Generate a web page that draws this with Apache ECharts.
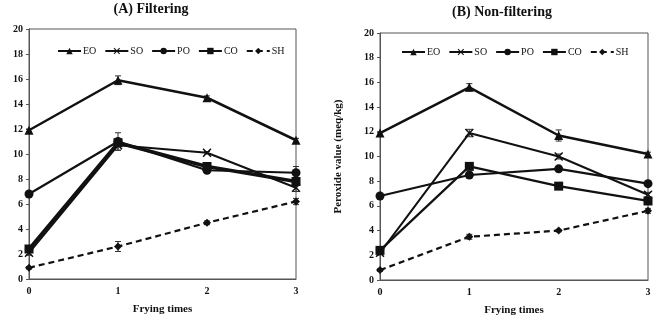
<!DOCTYPE html>
<html>
<head>
<meta charset="utf-8">
<script src="https://cdn.jsdelivr.net/npm/echarts@6/dist/echarts.min.js"></script>
<style>
  html, body { margin: 0; padding: 0; background: #fff; }
  #chart { width: 654px; height: 321px; }
</style>
</head>
<body>
<div id="chart"></div>
<script>
// Frying times on the x axis
const fryingTimes = [0, 1, 2, 3];
const oilNames = ['EO', 'SO', 'PO', 'CO', 'SH'];

// (A) Filtering - peroxide values (meq/kg)
const filterEO = [11.9, 15.9, 14.5, 11.1];
const filterSO = [2.1, 10.7, 10.1, 7.3];
const filterPO = [6.8, 11.0, 8.7, 8.5];
const filterCO = [2.4, 10.9, 9.0, 7.8];
const filterSH = [0.9, 2.6, 4.5, 6.2];

// (A) error bars
const filterEOErr = [0.1, 0.35, 0.15, 0.15];
const filterSOErr = [0.2, 0.4, 0.1, 0.3];
const filterPOErr = [0.1, 0.7, 0.15, 0.5];
const filterCOErr = [0.1, 0.2, 0.2, 0.3];
const filterSHErr = [0.1, 0.4, 0.15, 0.25];

// (B) Non-filtering - peroxide values (meq/kg)
const nonFilterEO = [11.9, 15.6, 11.7, 10.2];
const nonFilterSO = [2.2, 11.9, 10.0, 6.9];
const nonFilterPO = [6.8, 8.5, 9.0, 7.8];
const nonFilterCO = [2.4, 9.2, 7.6, 6.4];
const nonFilterSH = [0.8, 3.5, 4.0, 5.6];

// (B) error bars
const nonFilterEOErr = [0.1, 0.3, 0.45, 0.15];
const nonFilterSOErr = [0.1, 0.3, 0.2, 0.2];
const nonFilterPOErr = [0.1, 0.2, 0.2, 0.2];
const nonFilterCOErr = [0.1, 0.2, 0.2, 0.2];
const nonFilterSHErr = [0.1, 0.2, 0.1, 0.2];

const FONT = '"Liberation Serif", "Times New Roman", serif';
const INK = '#111';

const xCross = 'path://M0,1.2L1.2,0L5,3.8L8.8,0L10,1.2L6.2,5L10,8.8L8.8,10L5,6.2L1.2,10L0,8.8L3.8,5Z';

// style per oil: symbol, size, line width, dash
const oilStyles = {
    EO: { symbol: 'triangle', size: 9, width: 2.5, type: 'solid' },
    SO: { symbol: xCross, size: 9, width: 2, type: 'solid' },
    PO: { symbol: 'circle', size: 9, width: 2.2, type: 'solid' },
    CO: { symbol: 'rect', size: 9, width: 2.5, type: 'solid' },
    SH: { symbol: 'diamond', size: 8, width: 2.2, type: [6, 4] }
};

function toPoints(values) {
    return fryingTimes.map((t, i) => [t, values[i]]);
}

function lineSeries(name, values, idx, widthOverride) {
    const st = oilStyles[name];
    return {
        name: name,
        type: 'line',
        xAxisIndex: idx,
        yAxisIndex: idx,
        data: toPoints(values),
        symbol: st.symbol,
        symbolSize: st.size,
        showAllSymbol: true,
        lineStyle: { color: INK, width: widthOverride || st.width, type: st.type },
        itemStyle: { color: INK },
        z: 3
    };
}

function errorSeries(values, errs, idx) {
    return {
        type: 'custom',
        xAxisIndex: idx,
        yAxisIndex: idx,
        silent: true,
        data: fryingTimes.map((t, i) => [t, values[i], errs[i]]),
        renderItem: function(params, api) {
            const x = api.value(0), y = api.value(1), e = api.value(2);
            const hi = api.coord([x, y + e]);
            const lo = api.coord([x, y - e]);
            const w = 3;
            const s = { stroke: '#333', lineWidth: 1 };
            return {
                type: 'group',
                children: [
                    { type: 'line', shape: { x1: hi[0], y1: hi[1], x2: lo[0], y2: lo[1] }, style: s },
                    { type: 'line', shape: { x1: hi[0] - w, y1: hi[1], x2: hi[0] + w, y2: hi[1] }, style: s },
                    { type: 'line', shape: { x1: lo[0] - w, y1: lo[1], x2: lo[0] + w, y2: lo[1] }, style: s }
                ]
            };
        },
        z: 2
    };
}

function xAxisFor(idx) {
    return {
        gridIndex: idx,
        type: 'value',
        min: 0,
        max: 3,
        interval: 1,
        name: 'Frying times',
        nameLocation: 'middle',
        nameGap: 25,
        nameTextStyle: { fontFamily: FONT, fontWeight: 'bold', fontSize: 11, color: INK },
        axisLine: { show: true, lineStyle: { color: '#555', width: 1 } },
        axisTick: { show: false },
        axisLabel: { fontFamily: FONT, fontWeight: 'bold', fontSize: 10, color: INK, margin: 7 },
        splitLine: { show: false }
    };
}

function yAxisFor(idx, withName) {
    const ax = {
        gridIndex: idx,
        type: 'value',
        min: 0,
        max: 20,
        interval: 2,
        axisLine: { show: true, lineStyle: { color: '#555', width: 1 } },
        axisTick: { show: true, length: 3, lineStyle: { color: '#555' } },
        axisLabel: { fontFamily: FONT, fontWeight: 'bold', fontSize: 10, color: INK, margin: 6 },
        splitLine: { show: false }
    };
    if (withName) {
        ax.name = 'Peroxide value (meq/kg)';
        ax.nameLocation = 'middle';
        ax.nameGap = 36;
        ax.nameTextStyle = { fontFamily: FONT, fontWeight: 'bold', fontSize: 11, color: INK };
    }
    return ax;
}

function legendFor(left, top) {
    return {
        left: left,
        top: top,
        width: 300,
        data: oilNames,
        itemWidth: 23,
        itemHeight: 8,
        itemGap: 8,
        textStyle: { fontFamily: FONT, fontSize: 10, color: INK, padding: [0, 0, 0, -3] },
        selectedMode: false
    };
}

const chart = echarts.init(document.getElementById('chart'));

const series = [
    lineSeries('EO', filterEO, 0),
    lineSeries('SO', filterSO, 0),
    lineSeries('PO', filterPO, 0),
    lineSeries('CO', filterCO, 0, 3.5),
    lineSeries('SH', filterSH, 0),
    errorSeries(filterEO, filterEOErr, 0),
    errorSeries(filterSO, filterSOErr, 0),
    errorSeries(filterPO, filterPOErr, 0),
    errorSeries(filterCO, filterCOErr, 0),
    errorSeries(filterSH, filterSHErr, 0),
    lineSeries('EO', nonFilterEO, 1),
    lineSeries('SO', nonFilterSO, 1),
    lineSeries('PO', nonFilterPO, 1),
    lineSeries('CO', nonFilterCO, 1, 2.2),
    lineSeries('SH', nonFilterSH, 1),
    errorSeries(nonFilterEO, nonFilterEOErr, 1),
    errorSeries(nonFilterSO, nonFilterSOErr, 1),
    errorSeries(nonFilterPO, nonFilterPOErr, 1),
    errorSeries(nonFilterCO, nonFilterCOErr, 1),
    errorSeries(nonFilterSH, nonFilterSHErr, 1)
];

const option = {
    backgroundColor: '#fff',
    animation: false,
    title: [
        {
            text: '(A) Filtering',
            left: 146,
            top: -3,
            textAlign: 'center',
            textStyle: { fontFamily: FONT, fontWeight: 'bold', fontSize: 14, color: INK }
        },
        {
            text: '(B) Non-filtering',
            left: 497,
            top: 0,
            textAlign: 'center',
            textStyle: { fontFamily: FONT, fontWeight: 'bold', fontSize: 14, color: INK }
        }
    ],
    legend: [legendFor(52, 41), legendFor(396, 42)],
    grid: [
        { left: 29, top: 29, width: 267, height: 250, show: true, borderColor: '#555', borderWidth: 1, backgroundColor: 'transparent' },
        { left: 380, top: 33, width: 268, height: 247, show: true, borderColor: '#555', borderWidth: 1, backgroundColor: 'transparent' }
    ],
    xAxis: [xAxisFor(0), xAxisFor(1)],
    yAxis: [yAxisFor(0, false), yAxisFor(1, true)],
    series: series
};

chart.setOption(option);
</script>
</body>
</html>
